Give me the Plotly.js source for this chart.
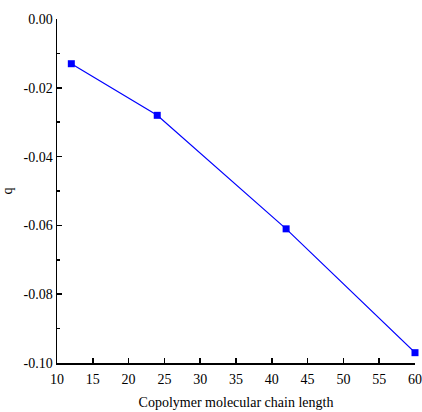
<!DOCTYPE html>
<html><head><meta charset="utf-8">
<script src="https://cdn.plot.ly/plotly-3.0.1.min.js"></script>
<style>html,body{margin:0;padding:0;background:#fff}#chart{width:422px;height:412px}</style>
</head><body><div id="chart"></div>
<script>
const chainLength = [12, 24, 42, 60];
const qValues = [-0.013, -0.028, -0.061, -0.097];
const xTickVals = [10, 15, 20, 25, 30, 35, 40, 45, 50, 55, 60];
const yTickVals = [0, -0.02, -0.04, -0.06, -0.08, -0.10];
const yTickText = ["0.00", "-0.02", "-0.04", "-0.06", "-0.08", "-0.10"];

const trace = {
  x: chainLength, y: qValues, type: 'scatter', mode: 'lines+markers',
  line: {color: '#0000ff', width: 1.2},
  marker: {symbol: 'square', size: 7, color: '#0000ff'},
  showlegend: false, cliponaxis: false
};
const font = {family: 'Liberation Serif, Times New Roman, serif', size: 14, color: '#000'};
const layout = {
  width: 422, height: 412,
  margin: {l: 57, r: 7, t: 19, b: 49},
  paper_bgcolor: '#fff', plot_bgcolor: '#fff',
  font: font,
  xaxis: {
    range: [10, 60], tickmode: 'array', tickvals: xTickVals, ticktext: xTickVals.map(String),
    ticks: 'inside', ticklen: 5, tickwidth: 1.5, tickcolor: '#000',
    showline: true, linecolor: '#000', linewidth: 1.5, showgrid: false, zeroline: false,
    tickfont: font, ticklabelstandoff: 3, ticklabeloverflow: 'allow',
    title: {text: 'Copolymer molecular chain length', font: font, standoff: 11}
  },
  yaxis: {
    range: [-0.10, 0], tickmode: 'array', tickvals: yTickVals, ticktext: yTickText,
    ticks: 'inside', ticklen: 5, tickwidth: 1.5, tickcolor: '#000',
    minor: {tickmode: 'array', tickvals: [-0.01, -0.03, -0.05, -0.07, -0.09], ticks: 'inside', ticklen: 3, tickwidth: 1.5, tickcolor: '#000', showgrid: false},
    showline: true, linecolor: '#000', linewidth: 1.5, showgrid: false, zeroline: false,
    tickfont: font, ticklabeloverflow: 'allow',
    title: {text: 'q', font: font, standoff: 8}
  }
};
Plotly.newPlot('chart', [trace], layout, {displayModeBar: false, staticPlot: true});
</script></body></html>
